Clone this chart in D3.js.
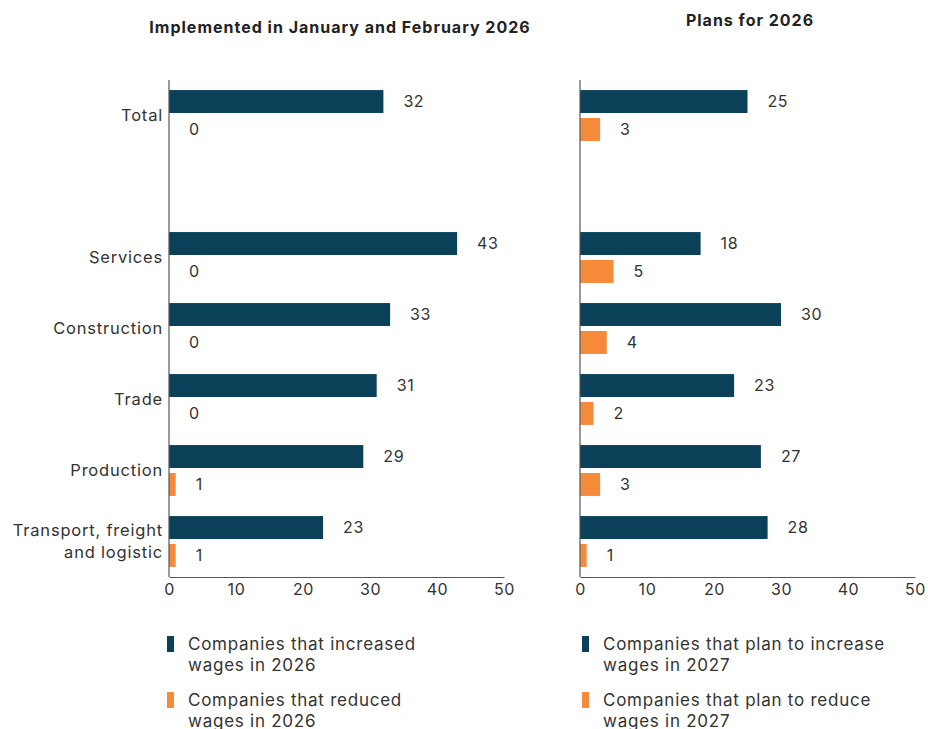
<!DOCTYPE html>
<html>
<head>
<meta charset="utf-8">
<script src="https://cdn.jsdelivr.net/npm/d3@7"></script>
<style>
  html, body { margin: 0; padding: 0; background: #fff; }
  svg { display: block; font-family: Inter, "DejaVu Sans", sans-serif; }
</style>
</head>
<body>
<svg id="chart" width="928" height="729"></svg>
<script>
// Sectors, top to bottom; the blank slot separates the total from the breakdown
const categories = ["Total", "", "Services", "Construction", "Trade", "Production", "Transport, freight\nand logistic"];

// Share of companies (%) — implemented in January and February 2026
const increased2026 = [32, null, 43, 33, 31, 29, 23];
const reduced2026   = [0,  null, 0,  0,  0,  1,  1];

// Share of companies (%) — plans
const planIncrease2027 = [25, null, 18, 30, 23, 27, 28];
const planReduce2027   = [3,  null, 5,  4,  2,  3,  1];

const xTicks = [0, 10, 20, 30, 40, 50];

const panelTitles = ["Implemented in January and February 2026", "Plans for 2026"];
const legendLeft  = [["Companies that increased", "wages in 2026"], ["Companies that reduced", "wages in 2026"]];
const legendRight = [["Companies that plan to increase", "wages in 2027"], ["Companies that plan to reduce", "wages in 2027"]];

const DARK = "#0b4059";
const ORANGE = "#f68a3b";
const TEXT = "#333";
const FONT = "Inter, \"DejaVu Sans\", sans-serif";

const svg = d3.select("#chart");

const y = d3.scaleBand().domain(d3.range(categories.length)).range([80, 577]).padding(0);
const ySub = d3.scaleBand().domain([0, 1]).range([0, y.bandwidth()]).paddingInner(0.18).paddingOuter(0.36);

function panel(x0, x1, title, titleX, titleY, incr, red, legend, legX, showCats) {
  const x = d3.scaleLinear().domain([0, 50]).range([x0, x1]);
  const g = svg.append("g");

  g.append("text")
    .attr("x", titleX).attr("y", titleY)
    .attr("text-anchor", "middle")
    .attr("font-size", 16).attr("font-weight", 700)
    .attr("letter-spacing", 1.0)
    .attr("fill", "#222")
    .text(title);

  const rows = categories.map((c, i) => ({ c, i, a: incr[i], b: red[i] })).filter(d => d.a !== null);

  // bars and their value labels
  [["a", 0, DARK], ["b", 1, ORANGE]].forEach(([key, sub, color]) => {
    g.selectAll(null).data(rows).enter().append("rect")
      .attr("x", x(0))
      .attr("y", d => y(d.i) + ySub(sub))
      .attr("width", d => x(d[key]) - x(0))
      .attr("height", ySub.bandwidth())
      .attr("fill", color);

    g.selectAll(null).data(rows).enter().append("text")
      .attr("x", d => x(d[key]) + 20)
      .attr("y", d => y(d.i) + ySub(sub) + ySub.bandwidth() / 2)
      .attr("dy", "0.35em")
      .attr("font-size", 16)
      .attr("letter-spacing", 0.6)
      .attr("fill", TEXT)
      .text(d => d[key]);
  });

  // category labels
  if (showCats) {
    categories.forEach((c, i) => {
      if (!c) return;
      const lines = c.split("\n");
      const t = g.append("text")
        .attr("text-anchor", "end")
        .attr("font-size", 16.5)
        .attr("letter-spacing", 0.8)
        .attr("fill", TEXT);
      const cy = y(i) + y.bandwidth() / 2;
      lines.forEach((ln, k) => {
        t.append("tspan")
          .attr("x", x0 - 6)
          .attr("y", cy + (k - (lines.length - 1) / 2) * 22)
          .attr("dy", "0.35em")
          .text(ln);
      });
    });
  }

  // axes
  g.append("line")
    .attr("x1", x0).attr("x2", x0)
    .attr("y1", y.range()[0]).attr("y2", y.range()[1])
    .attr("stroke", "#555").attr("stroke-width", 1.2);

  const ax = g.append("g")
    .attr("transform", `translate(0,${y.range()[1]})`)
    .call(d3.axisBottom(x).tickValues(xTicks).tickSize(0).tickPadding(7));
  ax.select(".domain").attr("stroke", "#555").attr("stroke-width", 1.2);
  ax.selectAll("text").attr("font-size", 16).attr("letter-spacing", 0.6)
    .attr("fill", TEXT).attr("font-family", FONT);

  // legend
  const colors = [DARK, ORANGE];
  legend.forEach((lines, k) => {
    const ly = 636 + k * 56;
    g.append("rect")
      .attr("x", legX).attr("y", ly)
      .attr("width", 7).attr("height", 16)
      .attr("fill", colors[k]);
    const t = g.append("text").attr("font-size", 17).attr("letter-spacing", 0.75).attr("fill", TEXT);
    lines.forEach((ln, j) => {
      t.append("tspan").attr("x", legX + 21).attr("y", ly + 14 + j * 21).text(ln);
    });
  });
}

panel(169, 504, panelTitles[0], 340, 33, increased2026, reduced2026, legendLeft, 167, true);
panel(580, 915, panelTitles[1], 750, 26, planIncrease2027, planReduce2027, legendRight, 582, false);
</script>
</body>
</html>
